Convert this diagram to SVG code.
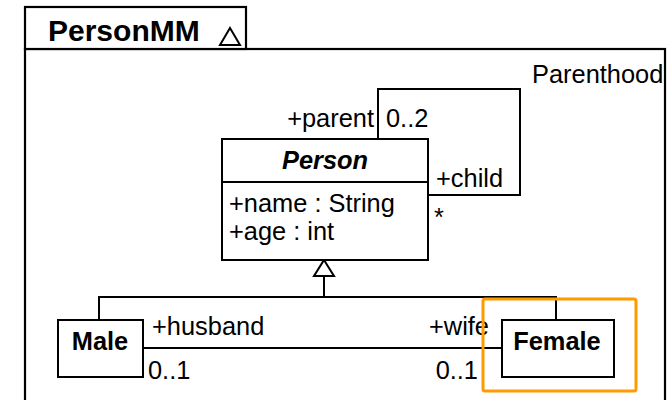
<svg xmlns="http://www.w3.org/2000/svg" width="671" height="400" viewBox="0 0 671 400">
  <style>
    .frame { fill: #fff; stroke: #000; stroke-width: 2.2; }
    .box { fill: #fff; stroke: #000; stroke-width: 2; }
    .line { fill: none; stroke: #000; stroke-width: 2; }
    text { font-family: "Liberation Sans", Arial, Helvetica, sans-serif; fill: #000; }
    .lbl { font-size: 25.4px; }
    .title { font-size: 25.4px; font-weight: bold; text-anchor: middle; }
    .pkg { font-size: 30px; font-weight: bold; }
    .hl { fill: none; stroke: #FF9A00; stroke-width: 3; }
  </style>

  <!-- package frame -->
  <g id="PersonMM">
    <rect class="frame" x="25" y="49" width="640" height="360"/>
    <rect class="frame" x="25" y="7" width="221" height="42"/>
    <text class="pkg" x="48" y="41">PersonMM</text>
    <polygon class="line" points="230,28 240,45 220,45"/>
    <text class="lbl" x="532" y="83">Parenthood</text>
  </g>

  <!-- connectors -->
  <g id="connectors">
    <!-- Parenthood self-association -->
    <polyline class="line" points="378,139 378,89 520,89 520,195 428,195"/>
    <!-- generalization -->
    <polygon class="line" points="324,260 334,276 314,276" style="fill:#fff"/>
    <line class="line" x1="324" y1="276" x2="324" y2="297"/>
    <polyline class="line" points="99,320 99,297 556,297 556,320"/>
    <!-- marriage association -->
    <line class="line" x1="143" y1="348" x2="502" y2="348"/>
  </g>

  <!-- association end labels -->
  <g id="labels">
    <text class="lbl" x="374" y="127" text-anchor="end">+parent</text>
    <text class="lbl" x="386" y="127">0..2</text>
    <text class="lbl" x="436" y="187">+child</text>
    <text class="lbl" x="434" y="226">*</text>
    <text class="lbl" x="152" y="335">+husband</text>
    <text class="lbl" x="148" y="379">0..1</text>
    <text class="lbl" x="489" y="335" text-anchor="end">+wife</text>
    <text class="lbl" x="478" y="379" text-anchor="end">0..1</text>
  </g>

  <g id="Person">
    <rect class="box" x="222" y="139" width="206" height="121"/>
    <line class="line" x1="222" y1="182" x2="428" y2="182"/>
    <text class="title" x="325" y="169" font-style="italic">Person</text>
    <text class="lbl" x="229" y="212">+name : String</text>
    <text class="lbl" x="229" y="240">+age : int</text>
  </g>

  <g id="Male">
    <rect class="box" x="58" y="320" width="85" height="57"/>
    <text class="title" x="100" y="350">Male</text>
  </g>

  <g id="Female">
    <rect class="box" x="502" y="320" width="112" height="57"/>
    <text class="title" x="557" y="350">Female</text>
  </g>

  <!-- highlight -->
  <rect class="hl" x="483" y="299" width="153" height="92" rx="2"/>
</svg>
